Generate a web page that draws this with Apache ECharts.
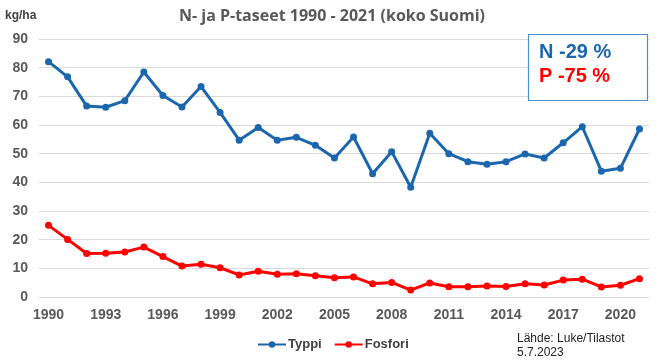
<!DOCTYPE html>
<html>
<head>
<meta charset="utf-8">
<script src="https://cdn.jsdelivr.net/npm/echarts@6/dist/echarts.min.js"></script>
<style>html,body{margin:0;padding:0;background:#fff}#c{width:658px;height:364px}</style>
</head>
<body>
<div id="c"></div>
<script>
var years = ['1990','1991','1992','1993','1994','1995','1996','1997','1998','1999','2000','2001','2002','2003','2004','2005','2006','2007','2008','2009','2010','2011','2012','2013','2014','2015','2016','2017','2018','2019','2020','2021'];
var typpi = [82.1,76.8,66.6,66.2,68.5,78.5,70.3,66.3,73.4,64.4,54.7,59.1,54.7,55.7,52.9,48.5,55.8,43.0,50.7,38.3,57.1,50.0,47.2,46.3,47.2,49.9,48.5,53.8,59.4,43.9,44.9,58.6];
var fosfori = [25.0,20.1,15.2,15.3,15.7,17.4,14.1,10.8,11.4,10.2,7.7,9.0,7.9,8.1,7.4,6.7,7.0,4.6,5.1,2.4,4.9,3.6,3.6,3.8,3.7,4.6,4.2,5.9,6.2,3.5,4.1,6.4];
var yTicks = [0,10,20,30,40,50,60,70,80,90];

var chart = echarts.init(document.getElementById('c'));
var blue = '#1b66ad', red = '#ff0000';
chart.setOption({
  animation: false,
  title: {
    text: 'N- ja P-taseet 1990 - 2021 (koko Suomi)',
    left: 327, top: 3, textAlign: 'center',
    textStyle: {fontFamily: 'Open Sans', fontWeight: 'bold', fontSize: 16, color: '#595959'}
  },
  grid: {left: 39, right: 9, top: 39, bottom: 67},
  xAxis: {
    type: 'category', data: years, boundaryGap: true,
    axisLine: {show: false}, axisTick: {show: false},
    axisLabel: {interval: 2, fontFamily: 'Liberation Sans', fontWeight: 'bold', fontSize: 14, color: '#595959', margin: 11}
  },
  yAxis: {
    type: 'value', min: yTicks[0], max: yTicks[yTicks.length-1], interval: 10,
    axisLine: {show: false}, axisTick: {show: false},
    splitLine: {lineStyle: {color: '#d9d9d9', width: 1}},
    axisLabel: {fontFamily: 'Liberation Sans', fontWeight: 'bold', fontSize: 14, color: '#595959', margin: 11}
  },
  legend: {
    bottom: 8, left: 252, itemWidth: 28, itemHeight: 8, itemGap: 12,
    textStyle: {fontFamily: 'Liberation Sans', fontWeight: 'bold', fontSize: 13, color: '#404040', padding: [0,0,0,-3]},
    data: ['Typpi', 'Fosfori']
  },
  series: [
    {name: 'Typpi', type: 'line', data: typpi, color: blue, symbol: 'circle', symbolSize: 7,
     lineStyle: {width: 3, color: blue}, itemStyle: {color: blue}},
    {name: 'Fosfori', type: 'line', data: fosfori, color: red, symbol: 'circle', symbolSize: 7,
     lineStyle: {width: 3, color: red}, itemStyle: {color: red}}
  ],
  graphic: [
    {type: 'text', left: 5, top: 10, style: {text: 'kg/ha', font: 'bold 12px "Liberation Sans"', fill: '#404040'}},
    {type: 'rect', shape: {x: 528.5, y: 34.5, width: 119, height: 66}, style: {fill: '#fff', stroke: '#4a90d0', lineWidth: 1.2}, z: 10},
    {type: 'text', left: 539, top: 42, style: {text: 'N -29 %', font: 'bold 20px "Liberation Sans"', fill: '#1b66ad'}, z: 11},
    {type: 'text', left: 539, top: 66, style: {text: 'P -75 %', font: 'bold 20px "Liberation Sans"', fill: '#ff0000'}, z: 11},
    {type: 'text', left: 517, top: 332, style: {text: 'Lähde: Luke/Tilastot\n5.7.2023', font: '12px "Liberation Sans"', fill: '#222', lineHeight: 14}}
  ]
});
</script>
</body>
</html>
